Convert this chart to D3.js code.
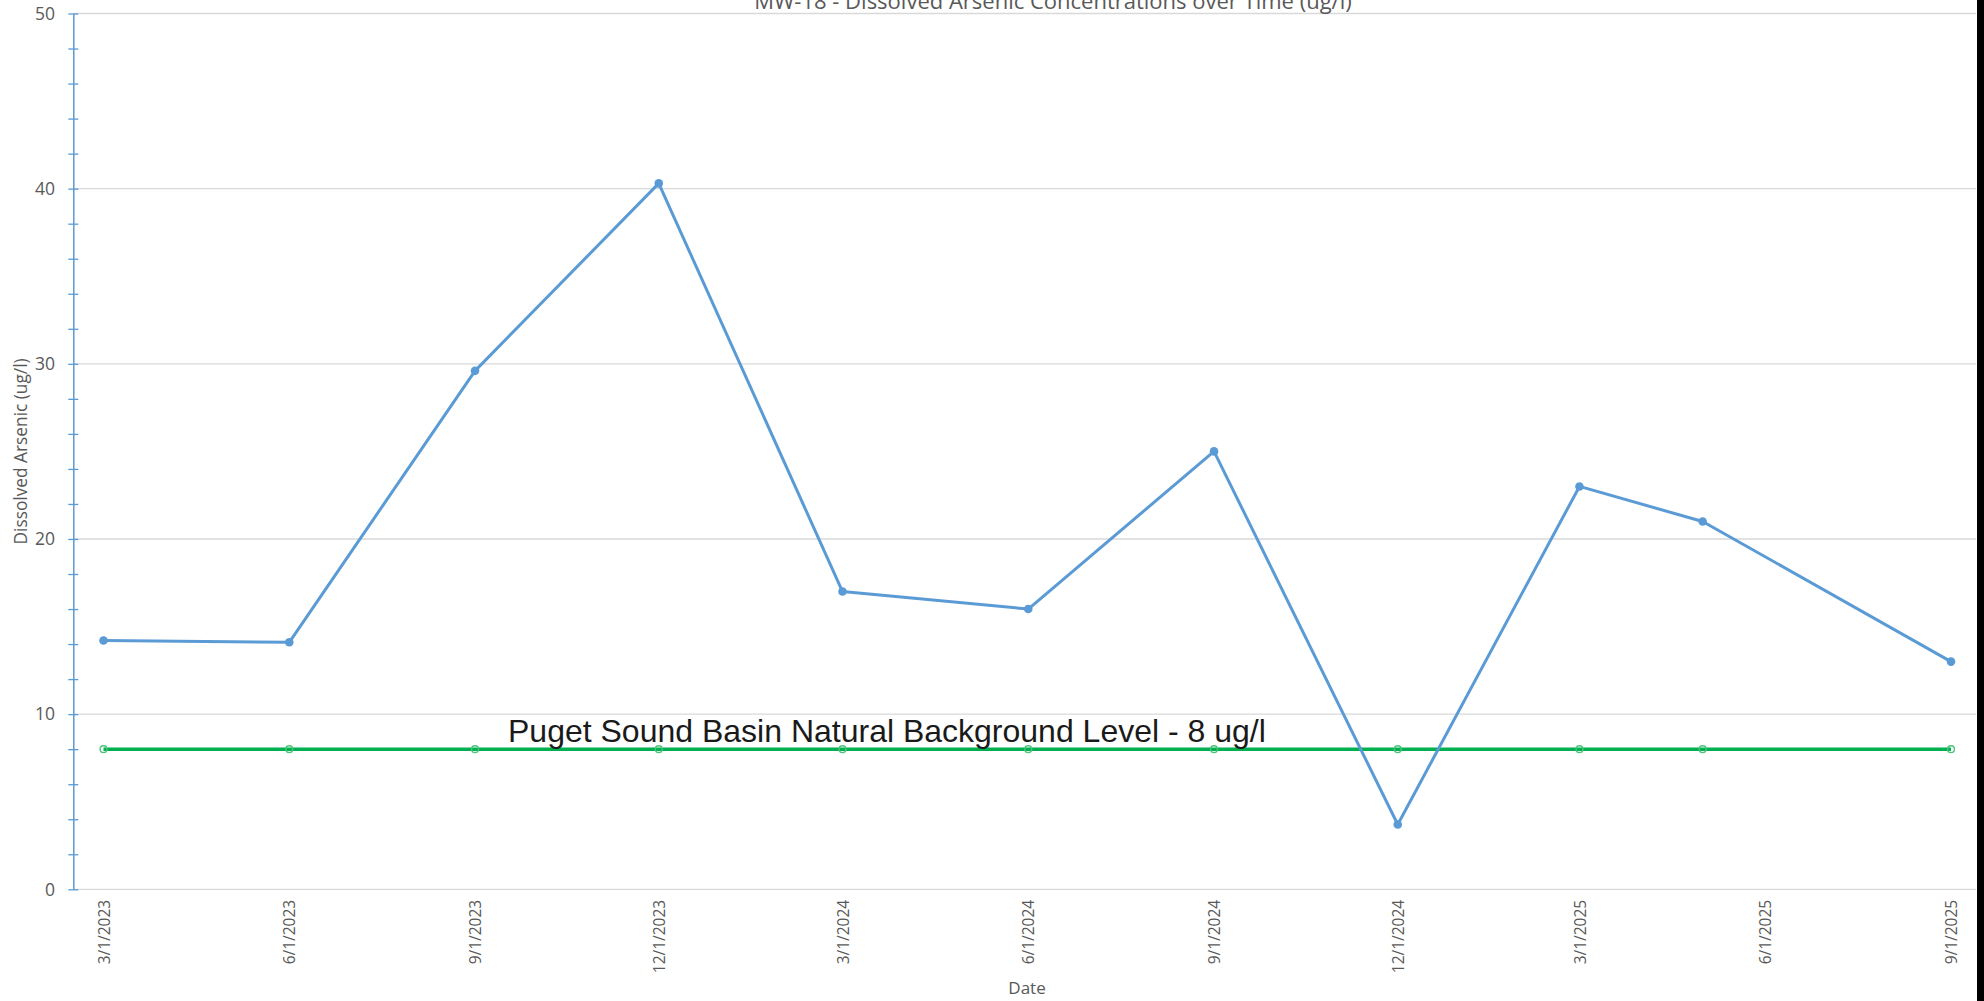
<!DOCTYPE html>
<html>
<head>
<meta charset="utf-8">
<script src="https://cdn.jsdelivr.net/npm/d3@7"></script>
<style>
  html, body { margin: 0; padding: 0; background: #fff; overflow: hidden; }
  svg { display: block; }
</style>
</head>
<body>
<svg id="chart" width="1984" height="1001"></svg>
<script>
// ---- data ----
const sampleDates = ["2023-03-01","2023-06-01","2023-09-01","2023-12-01","2024-03-01","2024-06-01","2024-09-01","2024-12-01","2025-03-01","2025-05-01","2025-09-01"];
const arsenicValues = [14.2, 14.1, 29.6, 40.3, 17, 16, 25, 3.7, 23, 21, 13];
const backgroundValues = [8, 8, 8, 8, 8, 8, 8, 8, 8, 8, 8];
const xTickDates = ["2023-03-01","2023-06-01","2023-09-01","2023-12-01","2024-03-01","2024-06-01","2024-09-01","2024-12-01","2025-03-01","2025-06-01","2025-09-01"];
const yTickValues = [0, 10, 20, 30, 40, 50];
const yMinorTicks = d3.range(0, 51, 2);
const titleText = "MW-18 - Dissolved Arsenic Concentrations over Time (ug/l)";
const yAxisTitle = "Dissolved Arsenic (ug/l)";
const xAxisTitle = "Date";
const annotationText = "Puget Sound Basin Natural Background Level - 8 ug/l";

// ---- layout ----
const svg = d3.select("#chart");
const plotLeft = 73.3, plotRight = 1976, plotTop = 13.5, plotBottom = 889.3;
const parse = d3.utcParse("%Y-%m-%d");
const fmt = d => `${d.getUTCMonth()+1}/${d.getUTCDate()}/${d.getUTCFullYear()}`;

const x = d3.scaleUtc()
  .domain([parse("2023-03-01"), parse("2025-09-01")])
  .range([103.5, 1951]);
const y = d3.scaleLinear().domain([0, 50]).range([plotBottom, plotTop]);

const font = "'Open Sans', 'Noto Sans', sans-serif";
const gray = "#595959";

// gridlines
svg.append("g").selectAll("line").data(yTickValues).join("line")
  .attr("x1", plotLeft).attr("x2", plotRight)
  .attr("y1", d => y(d)).attr("y2", d => y(d))
  .attr("stroke", "#d9d9d9").attr("stroke-width", 1.3);

// y axis (blue, with cross ticks every 2)
const yAxis = d3.axisLeft(y).tickValues(yMinorTicks).tickSize(0).tickFormat("");
const gy = svg.append("g").attr("transform", `translate(${plotLeft},0)`).call(yAxis);
gy.select(".domain").attr("stroke", "#5b9bd5").attr("stroke-width", 1.5);
gy.selectAll(".tick line").remove();
gy.selectAll(".tick").append("line")
  .attr("x1", -5).attr("x2", 5).attr("y1", 0).attr("y2", 0)
  .attr("stroke", "#5b9bd5").attr("stroke-width", 1.3);

// y tick labels
svg.append("g").selectAll("text").data(yTickValues).join("text")
  .attr("x", 55).attr("y", d => y(d)).attr("dy", "0.36em")
  .attr("text-anchor", "end")
  .attr("font-family", font).attr("font-size", 17.5).attr("fill", gray)
  .text(d => d);

// x axis labels
const xAxis = d3.axisBottom(x).tickValues(xTickDates.map(parse)).tickSize(0).tickFormat(fmt);
const gx = svg.append("g").attr("transform", `translate(0,${plotBottom})`).call(xAxis);
gx.select(".domain").remove();
gx.selectAll(".tick text")
  .attr("font-family", font).attr("font-size", 15.5).attr("fill", gray)
  .attr("transform", "rotate(-90)")
  .attr("text-anchor", "end")
  .attr("x", -10.5).attr("y", 0).attr("dy", "0.36em");

// axis titles
svg.append("text")
  .attr("transform", `translate(21,${(plotTop+plotBottom)/2}) rotate(-90)`)
  .attr("text-anchor", "middle").attr("dy", "0.36em")
  .attr("font-family", font).attr("font-size", 17.3).attr("fill", gray)
  .text(yAxisTitle);
svg.append("text")
  .attr("x", 1027).attr("y", 988).attr("dy", "0.36em")
  .attr("text-anchor", "middle")
  .attr("font-family", font).attr("font-size", 17).attr("fill", gray)
  .text(xAxisTitle);

// title (clipped at top, as in the original)
svg.append("text")
  .attr("x", 1053).attr("y", 9)
  .attr("text-anchor", "middle")
  .attr("font-family", font).attr("font-size", 22).attr("fill", gray)
  .text(titleText);

// series
const arsenic = sampleDates.map((d, i) => ({ date: parse(d), v: arsenicValues[i] }));
const background = sampleDates.map((d, i) => ({ date: parse(d), v: backgroundValues[i] }));
const line = d3.line().x(d => x(d.date)).y(d => y(d.v));

svg.append("path").datum(background)
  .attr("d", line).attr("fill", "none")
  .attr("stroke", "#00b050").attr("stroke-width", 3.5);
svg.append("g").selectAll("circle").data(background).join("circle")
  .attr("cx", d => x(d.date)).attr("cy", d => y(d.v)).attr("r", 3.4)
  .attr("fill", "none").attr("stroke", "#4cc47a").attr("stroke-width", 1.4);

svg.append("path").datum(arsenic)
  .attr("d", line).attr("fill", "none")
  .attr("stroke", "#5b9bd5").attr("stroke-width", 3)
  .attr("stroke-linejoin", "round");
svg.append("g").selectAll("circle").data(arsenic).join("circle")
  .attr("cx", d => x(d.date)).attr("cy", d => y(d.v)).attr("r", 4.3)
  .attr("fill", "#5b9bd5");

// annotation
svg.append("text")
  .attr("x", 508).attr("y", y(8) - 7.5)
  .attr("font-family", "'Liberation Sans', Arial, sans-serif").attr("font-size", 32)
  .attr("fill", "#1a1a1a")
  .text(annotationText);

// dark right edge
svg.append("rect").attr("x", 1977).attr("y", 0).attr("width", 7).attr("height", 1001).attr("fill", "#000");
</script>
</body>
</html>
